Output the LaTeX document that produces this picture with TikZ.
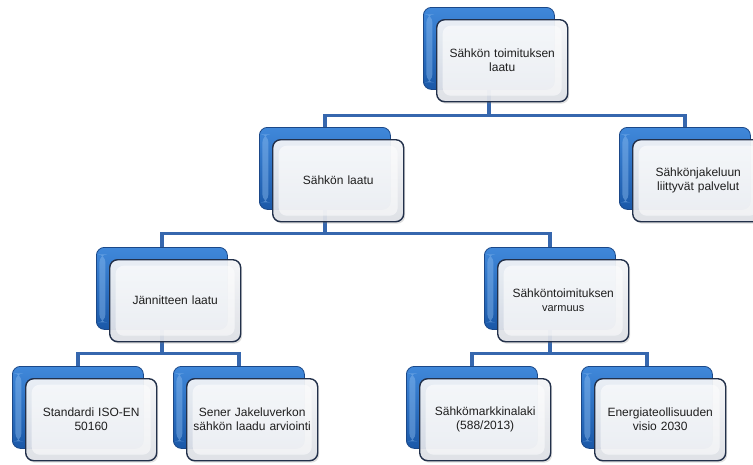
\documentclass[tikz,border=0pt]{standalone}
\usepackage{fontspec}
\setmainfont{Liberation Sans}
\usetikzlibrary{shadows}

\definecolor{linkblue}{HTML}{3667AE}
\definecolor{backtop}{HTML}{4088DA}
\definecolor{backbot}{HTML}{1A58A8}
\definecolor{backedge}{HTML}{1B4888}
\definecolor{backglow}{HTML}{8CBBEE}
\definecolor{frontedge}{HTML}{22304A}
\definecolor{facetop}{HTML}{F7F8FA}
\definecolor{facebot}{HTML}{DFE2E8}
\definecolor{textgrey}{HTML}{1E1E1E}

\tikzset{
  backbox/.style={rectangle, rounded corners=8pt, minimum width=131pt,
    minimum height=82pt, anchor=north west, draw=backedge, line width=0.8pt,
    top color=backtop, bottom color=backbot, inner sep=0pt,
    path picture={
      \fill[backglow, opacity=0.45]
        ([shift={(3,7)}]path picture bounding box.north west) rectangle
        ([shift={(9,-7)}]path picture bounding box.south west);
    }},
  frontbox/.style={rectangle, rounded corners=8pt, minimum width=131pt,
    minimum height=82pt, anchor=north west, draw=frontedge, line width=1.4pt,
    top color=facetop, bottom color=facebot, fill opacity=0.92,
    text opacity=1, text=textgrey, align=center, text width=122pt,
    inner sep=0pt, font=\fontsize{12}{14}\selectfont,
    drop shadow={shadow xshift=1.5pt, shadow yshift=-2pt, opacity=0.25},
    path picture={
      \fill[white, opacity=0.55]
        ([shift={(6,6)}]path picture bounding box.north west) rectangle
        ([shift={(-6,-6)}]path picture bounding box.south east);
    }},
  link/.style={draw=linkblue, line width=3.2pt}
}

% blue back card and white front card of one chart entry
\newcommand\backcard[3]{\node[backbox] (#1-b) at (#2,#3) {};}
\newcommand\frontcard[4]{\node[frontbox] (#1) at (#2+13,#3+12) {#4};}

\begin{document}
\begin{tikzpicture}[x=1pt,y=-1pt]
\useasboundingbox (0,0) rectangle (753,464);
\clip (0,0) rectangle (753,464);

% back cards
\backcard{top}{423}{7}
\backcard{sl}{259}{127}
\backcard{pal}{619}{127}
\backcard{jl}{96}{247}
\backcard{var}{484}{247}
\backcard{std}{12}{366}
\backcard{sen}{173}{366}
\backcard{sml}{406}{366}
\backcard{en}{581}{366}

% tree connectors
\draw[link] (top-b.south) -- ++(0,26) -| (sl-b.north);
\draw[link] (top-b.south) -- ++(0,26) -| (pal-b.north);
\draw[link] (sl-b.south) -- ++(0,24) -| (jl-b.north);
\draw[link] (sl-b.south) -- ++(0,24) -| (var-b.north);
\draw[link] (jl-b.south) -- ++(0,24) -| (std-b.north);
\draw[link] (jl-b.south) -- ++(0,24) -| (sen-b.north);
\draw[link] (var-b.south) -- ++(0,24) -| (sml-b.north);
\draw[link] (var-b.south) -- ++(0,24) -| (en-b.north);

% front cards with labels
\frontcard{top}{423}{7}{Sähkön toimituksen\\laatu}
\frontcard{sl}{259}{127}{Sähkön laatu}
\frontcard{pal}{619}{127}{Sähkönjakeluun\\liittyvät palvelut}
\frontcard{jl}{96}{247}{Jännitteen laatu}
\frontcard{var}{484}{247}{Sähköntoimituksen\\{\fontsize{11}{13}\selectfont varmuus}}
\frontcard{std}{12}{366}{Standardi ISO-EN\\50160}
\frontcard{sen}{173}{366}{Sener Jakeluverkon\\sähkön laadu arviointi}
\frontcard{sml}{406}{366}{Sähkömarkkinalaki\\(588/2013)}
\frontcard{en}{581}{366}{Energiateollisuuden\\visio 2030}
\end{tikzpicture}
\end{document}
